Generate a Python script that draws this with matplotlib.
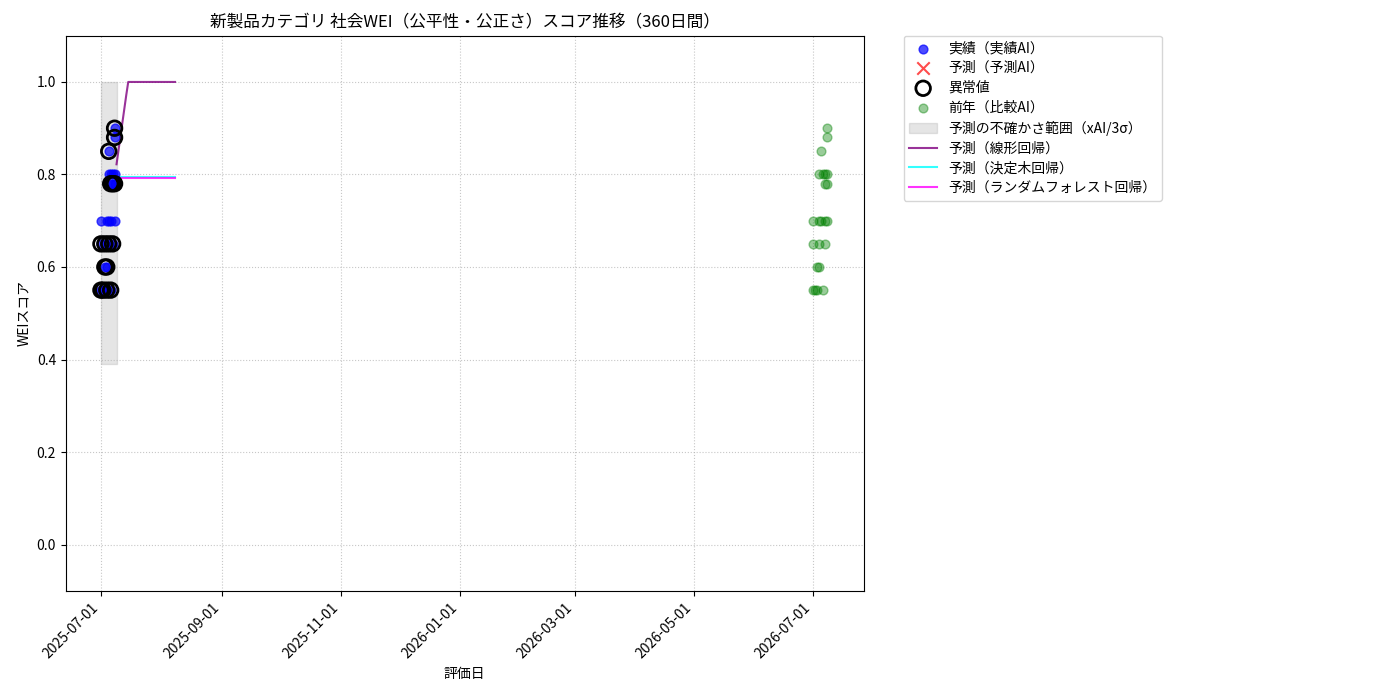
import numpy as np
import pandas as pd
import matplotlib
matplotlib.use("Agg")
import matplotlib.pyplot as plt
import matplotlib.dates as mdates

plt.rcParams['font.family'] = ['Noto Sans CJK JP', 'DejaVu Sans']

# 実績（実績AI）
actual_dates = pd.to_datetime([
    "2025-07-01", "2025-07-02", "2025-07-04", "2025-07-06",
    "2025-07-03", "2025-07-04",
    "2025-07-01", "2025-07-03", "2025-07-05", "2025-07-07",
    "2025-07-01", "2025-07-04", "2025-07-05", "2025-07-06", "2025-07-08",
    "2025-07-05", "2025-07-06", "2025-07-07", "2025-07-08",
    "2025-07-06", "2025-07-07", "2025-07-08",
    "2025-07-05",
    "2025-07-08",
    "2025-07-08",
])
actual_scores = [
    0.55, 0.55, 0.55, 0.55,
    0.60, 0.60,
    0.65, 0.65, 0.65, 0.65,
    0.70, 0.70, 0.70, 0.70, 0.70,
    0.80, 0.80, 0.80, 0.80,
    0.78, 0.78, 0.78,
    0.85,
    0.88,
    0.90,
]
# 異常値フラグ
outlier = [
    1, 1, 1, 1,
    1, 1,
    1, 1, 1, 1,
    0, 0, 0, 0, 0,
    0, 0, 0, 0,
    1, 1, 1,
    1,
    1,
    1,
]

# 前年（比較AI）: 1年後にずらして表示
prev_dates = pd.to_datetime([
    "2026-07-01", "2026-07-02", "2026-07-03", "2026-07-06",
    "2026-07-03", "2026-07-04",
    "2026-07-01", "2026-07-04", "2026-07-07",
    "2026-07-01", "2026-07-04", "2026-07-05", "2026-07-07", "2026-07-08",
    "2026-07-04", "2026-07-06", "2026-07-07", "2026-07-08",
    "2026-07-07", "2026-07-08",
    "2026-07-05",
    "2026-07-08",
    "2026-07-08",
])
prev_scores = [
    0.55, 0.55, 0.55, 0.55,
    0.60, 0.60,
    0.65, 0.65, 0.65,
    0.70, 0.70, 0.70, 0.70, 0.70,
    0.80, 0.80, 0.80, 0.80,
    0.78, 0.78,
    0.85,
    0.88,
    0.90,
]

# 予測（予測AI）: データなし
pred_ai_dates = pd.to_datetime([])
pred_ai_scores = []

# 予測期間（30日）
future_dates = pd.date_range("2025-07-09", "2025-08-08", freq="D")
pred_linear = [0.822, 0.852, 0.882, 0.912, 0.942, 0.972] + [1.0] * 25
pred_tree = [0.795] * 31
pred_rf = [0.792] * 31

# 不確かさ範囲
band_dates = pd.to_datetime(["2025-07-01", "2025-07-09"])
band_lower = [0.39, 0.39]
band_upper = [1.0, 1.0]

fig, ax = plt.subplots(figsize=(14, 7), dpi=100)
fig.subplots_adjust(left=0.047, right=0.617, top=0.949, bottom=0.156)

ax.fill_between(band_dates, band_lower, band_upper, color='gray', alpha=0.2,
                label='予測の不確かさ範囲（xAI/3σ）')

ax.scatter(actual_dates, actual_scores, color='blue', alpha=0.7, s=40, label='実績（実績AI）', zorder=3)
ax.scatter(pred_ai_dates, pred_ai_scores, color='red', marker='x', alpha=0.7, s=80, label='予測（予測AI）')

od = [d for d, f in zip(actual_dates, outlier) if f]
os_ = [v for v, f in zip(actual_scores, outlier) if f]
ax.scatter(od, os_, facecolors='none', edgecolors='black', s=110, linewidths=2, label='異常値', zorder=4)

ax.scatter(prev_dates, prev_scores, color='green', alpha=0.4, s=40, label='前年（比較AI）', zorder=3)

ax.plot(future_dates, pred_linear, color='purple', alpha=0.8, label='予測（線形回帰）')
ax.plot(future_dates, pred_tree, color='cyan', alpha=0.8, label='予測（決定木回帰）')
ax.plot(future_dates, pred_rf, color='magenta', alpha=0.8, label='予測（ランダムフォレスト回帰）')

ax.set_ylim(-0.1, 1.1)
ax.set_xlim(pd.Timestamp("2025-06-13"), pd.Timestamp("2026-07-27"))
ax.xaxis.set_major_locator(mdates.MonthLocator(bymonth=[1, 3, 5, 7, 9, 11]))
ax.xaxis.set_major_formatter(mdates.DateFormatter('%Y-%m-%d'))
plt.setp(ax.get_xticklabels(), rotation=45, ha='right')

ax.set_title('新製品カテゴリ 社会WEI（公平性・公正さ）スコア推移（360日間）', fontsize=12)
ax.set_xlabel('評価日')
ax.set_ylabel('WEIスコア')
ax.grid(True, linestyle=':', alpha=0.7)

handles, labels = ax.get_legend_handles_labels()
order = ['実績（実績AI）', '予測（予測AI）', '異常値', '前年（比較AI）',
         '予測の不確かさ範囲（xAI/3σ）', '予測（線形回帰）', '予測（決定木回帰）',
         '予測（ランダムフォレスト回帰）']
hmap = dict(zip(labels, handles))
ax.legend([hmap[k] for k in order], order, bbox_to_anchor=(1.05, 1), loc='upper left',
          borderaxespad=0., labelspacing=0.42)

fig.savefig('out.png', dpi=100)
